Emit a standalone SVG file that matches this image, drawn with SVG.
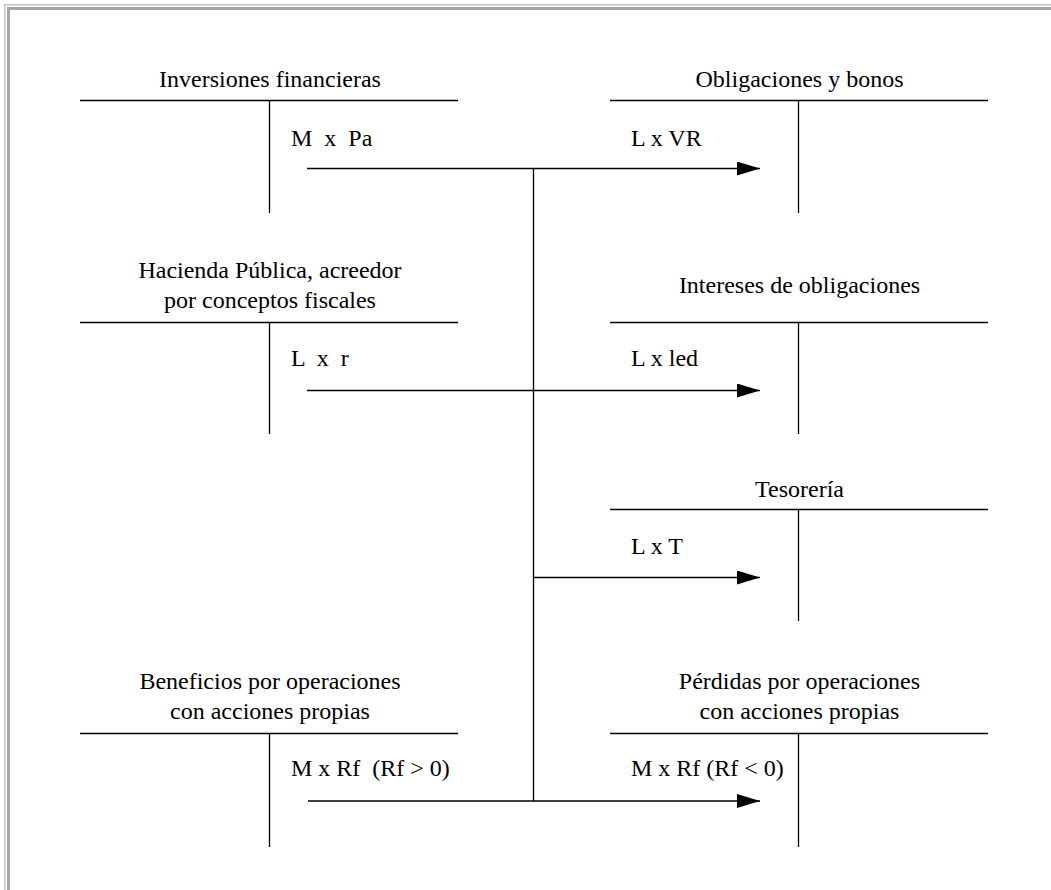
<svg xmlns="http://www.w3.org/2000/svg" width="1051" height="890" viewBox="0 0 1051 890">
<style>
.t{font-family:"Liberation Serif","Times New Roman",serif;font-size:24px;fill:#000}
.c{text-anchor:middle}
.ln{stroke:#000;stroke-width:1.3;fill:none}
</style>
<defs>
<marker id="ah" markerUnits="userSpaceOnUse" markerWidth="24" markerHeight="16" refX="23" refY="7" orient="auto">
<path d="M0,0 L23,7 L0,14 Z" fill="#000"/>
</marker>
</defs>
<rect width="1051" height="890" fill="#fff"/>
<g id="frame">
<rect x="4" y="4" width="1047" height="1.5" fill="#c4c4c4"/>
<rect x="4" y="4" width="1.5" height="886" fill="#c4c4c4"/>
<rect x="7" y="7" width="1044" height="3" fill="#a6a6a6"/>
<rect x="7" y="7" width="3" height="883" fill="#a6a6a6"/>
</g>
<g id="inversiones">
<text class="t c" x="270" y="87">Inversiones financieras</text>
<path class="ln" d="M80,100.5 H458 M269.5,100.5 V213"/>
<text class="t" x="291" y="146" xml:space="preserve">M  x  Pa</text>
</g>
<g id="obligaciones">
<text class="t c" x="799.5" y="87">Obligaciones y bonos</text>
<path class="ln" d="M610,100.5 H988 M798.5,100.5 V213"/>
<text class="t" x="631" y="146">L x VR</text>
</g>
<g id="hacienda">
<text class="t c" x="270" y="278">Hacienda Pública, acreedor</text>
<text class="t c" x="270" y="308">por conceptos fiscales</text>
<path class="ln" d="M80,322.5 H458 M269.5,322.5 V434"/>
<text class="t" x="291" y="366" xml:space="preserve">L  x  r</text>
</g>
<g id="intereses">
<text class="t c" x="799.5" y="293">Intereses de obligaciones</text>
<path class="ln" d="M610,322.5 H988 M798.5,322.5 V434"/>
<text class="t" x="631" y="366">L x led</text>
</g>
<g id="tesoreria">
<text class="t c" x="799.5" y="497">Tesorería</text>
<path class="ln" d="M610,509.5 H988 M798.5,509.5 V621"/>
<text class="t" x="631" y="554">L x T</text>
</g>
<g id="beneficios">
<text class="t c" x="270" y="689">Beneficios por operaciones</text>
<text class="t c" x="270" y="719">con acciones propias</text>
<path class="ln" d="M80,733.5 H458 M269.5,733.5 V847"/>
<text class="t" x="291" y="776" xml:space="preserve">M x Rf  (Rf &gt; 0)</text>
</g>
<g id="perdidas">
<text class="t c" x="799.5" y="689">Pérdidas por operaciones</text>
<text class="t c" x="799.5" y="719">con acciones propias</text>
<path class="ln" d="M610,733.5 H988 M798.5,733.5 V847"/>
<text class="t" x="631" y="776">M x Rf (Rf &lt; 0)</text>
</g>
<g id="connectors">
<path class="ln" d="M533.5,168.5 V801"/>
<path class="ln" d="M307,168.5 H760" marker-end="url(#ah)"/>
<path class="ln" d="M307,390.5 H760" marker-end="url(#ah)"/>
<path class="ln" d="M533.5,577.5 H760" marker-end="url(#ah)"/>
<path class="ln" d="M308,801 H760" marker-end="url(#ah)"/>
</g>
</svg>
